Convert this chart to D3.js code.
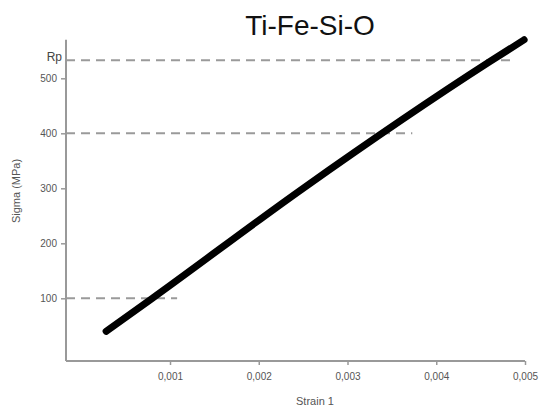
<!DOCTYPE html>
<html><head><meta charset="utf-8">
<script src="https://cdn.jsdelivr.net/npm/d3@7"></script>
<style>body{margin:0;background:#fff}svg{display:block;font-family:"Liberation Sans",Arial,sans-serif}</style>
</head><body>
<svg id="c" width="539" height="407"></svg>
<script>
const strain = [0.00028, 0.0008, 0.0025, 0.0046, 0.00499];
const sigma  = [40, 100, 300, 530, 570];
const xTicks = [0.001, 0.002, 0.003, 0.004, 0.005];
const yTicks = [100, 200, 300, 400, 500];
const refLevels = [100, 400, 533];
const refEnds = [0.00108, 0.00373, 0.00489];
const refLabels = ["", "", "Rp"];

const svg = d3.select("#c");
const x = d3.scaleLinear().domain([-0.000172, 0.005]).range([66, 525]);
const y = d3.scaleLinear().domain([-14, 570]).range([361, 39.8]);
const fmt = d => d3.format(".3f")(d).replace(".", ",");

// reference dashed lines
refLevels.forEach((v, i) => {
  svg.append("line").attr("x1", x.range()[0]).attr("x2", x(refEnds[i]))
    .attr("y1", y(v)).attr("y2", y(v))
    .attr("stroke", "#9a9a9a").attr("stroke-width", 2).attr("stroke-dasharray", "9,6");
  if (refLabels[i]) svg.append("text").attr("x", 62).attr("y", y(v) + 1)
    .attr("text-anchor", "end").attr("font-size", 12).attr("fill", "#444").text(refLabels[i]);
});

// axes
const xa = svg.append("g").attr("transform", `translate(0,361)`)
  .call(d3.axisBottom(x).tickValues(xTicks).tickFormat(fmt).tickSize(4).tickPadding(8));
const ya = svg.append("g").attr("transform", `translate(66,0)`)
  .call(d3.axisLeft(y).tickValues(yTicks).tickSize(5).tickPadding(4));
[xa, ya].forEach(g => {
  g.select(".domain").attr("stroke", "#999").attr("stroke-width", 2);
  g.selectAll(".tick line").attr("stroke", "#999").attr("stroke-width", 1.5);
  g.selectAll("text").attr("fill", "#555").attr("font-size", 10).attr("font-family", "Liberation Sans, Arial, sans-serif");
});
xa.select(".domain").attr("d", `M${x.range()[0]},0H${x.range()[1]}`);
ya.select(".domain").attr("d", `M0,${y.range()[0]}V${y.range()[1]}`);

// data line
svg.append("path").datum(strain.map((s, i) => [s, sigma[i]]))
  .attr("d", d3.line().x(d => x(d[0])).y(d => y(d[1])).curve(d3.curveMonotoneX))
  .attr("fill", "none").attr("stroke", "#000").attr("stroke-width", 7)
  .attr("stroke-linecap", "round").attr("stroke-linejoin", "round");

// labels
svg.append("text").attr("x", 310).attr("y", 35).attr("text-anchor", "middle")
  .attr("font-size", 28).attr("fill", "#111").text("Ti-Fe-Si-O");
svg.append("text").attr("x", 315).attr("y", 405).attr("text-anchor", "middle")
  .attr("font-size", 11).attr("fill", "#555").text("Strain 1");
svg.append("text").attr("transform", "translate(20,191) rotate(-90)").attr("text-anchor", "middle")
  .attr("font-size", 11).attr("fill", "#555").text("Sigma (MPa)");
</script>
</body></html>
